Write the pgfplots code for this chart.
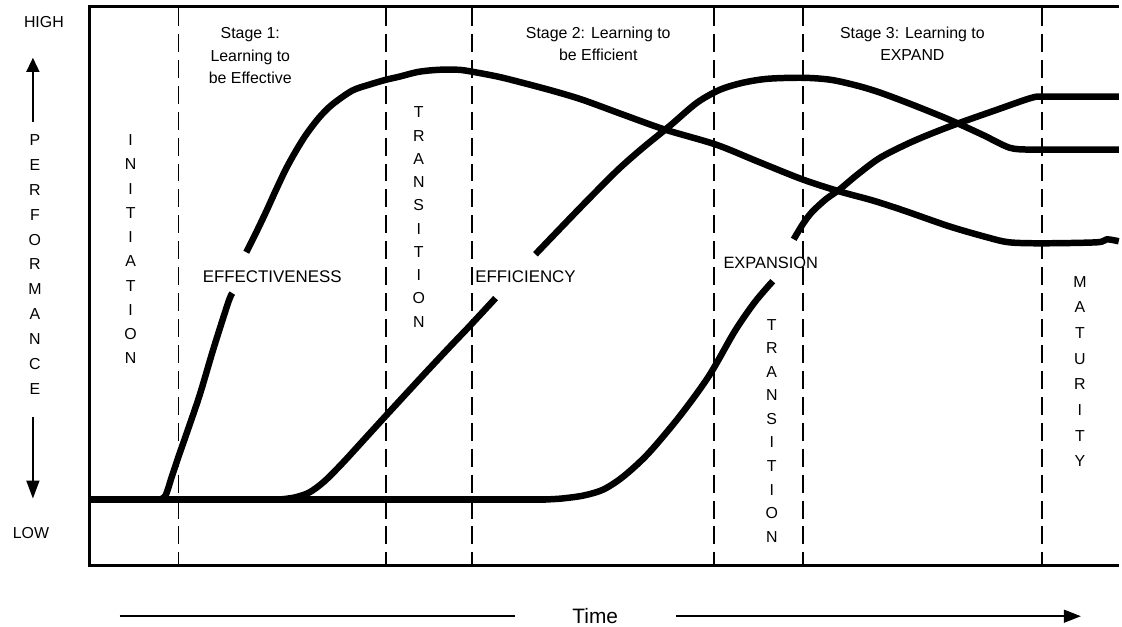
\documentclass[border=0pt]{standalone}
\usepackage{fontspec}
\setmainfont{Liberation Sans}
\usepackage{pgfplots}
\pgfplotsset{compat=1.18}
\usetikzlibrary{arrows.meta}
\begin{document}
\begin{tikzpicture}
\begin{axis}[x=1bp, y=1bp, xmin=0, xmax=1122, ymin=0, ymax=628, y dir=reverse,
  hide axis, clip=false, scale only axis]
% bounding box
\addplot[draw=none, forget plot] coordinates {(0,0) (1122,628)};
% frame (no right side)
\addplot[line width=3bp, line join=miter] coordinates {(1122,7) (90,7) (90,567) (1122,567)};
% dashed phase separators
\foreach \xx in {179,387,473,716,805,1045} {
  \edef\tmp{\noexpand\addplot[line width=1.8bp, dash pattern=on 18bp off 8bp] coordinates {(\xx,8) (\xx,566)};}
  \tmp
}
% baseline
\addplot[line width=6.5bp] coordinates {(90,501) (548,501)};
% Effectiveness
\addplot[line width=6.5bp, smooth, line join=round] coordinates {
(160,501) (166,497) (172,479) (179,458) (186,438) (200,397) (214,350) (229,303) (233,294)};
\addplot[line width=6.5bp, smooth, line join=round] coordinates {
(247,253) (257,233) (267,212) (277,190) (287,169) (297,151) (307,135) (320,118) (333,105) (353,91)
(370,85) (387,80) (400,77) (420,72) (440,70) (460,70) (474,72) (500,77) (524,83) (554,91)
(584,100) (625,115) (667,130) (718,145) (760,162) (805,180) (842,192) (875,201) (906,211)
(952,227) (990,238) (1012,243) (1045,244) (1100,243) (1110,240) (1122,242)};
% Efficiency
\addplot[line width=6.5bp, smooth, line join=round] coordinates {
(280,501) (295,499) (310,494) (325,483) (343,465) (365,441) (386,418) (421,380) (450,349) (471,327) (497,299)};
\addplot[line width=6.5bp, smooth, line join=round] coordinates {
(537,255) (560,231) (590,200) (620,170) (645,148) (672,126) (699,103) (722,90) (745,83) (770,79)
(805,78) (833,80) (860,86) (883,93) (915,105) (952,120) (985,135) (1012,148) (1030,150) (1045,150) (1122,150)};
% Expansion
\addplot[line width=6.5bp, smooth, line join=round] coordinates {
(545,501) (563,500) (585,497) (605,491) (625,478) (650,455) (682,417) (711,377) (737,332) (757,303) (775,282)};
\addplot[line width=6.5bp, smooth, line join=round] coordinates {
(796,240) (805,225) (814,213) (828,200) (842,190) (860,175) (883,158) (915,142) (952,127)
(1000,110) (1035,98) (1050,97) (1122,97)};

% Stage labels
\node[anchor=north, inner sep=0, align=center, font=\fontsize{16}{23}\selectfont] at (axis cs:251,27) {Stage 1:\\Learning to\\be Effective};
\node[anchor=north, inner sep=0, align=center, font=\fontsize{16}{22}\selectfont] at (axis cs:600,27) {Stage 2: Learning to\\be Efficient};
\node[anchor=north, inner sep=0, align=center, font=\fontsize{16}{22}\selectfont] at (axis cs:915,27) {Stage 3: Learning to\\EXPAND};
% curve labels
\node[inner sep=0, font=\fontsize{17}{20}\selectfont] at (axis cs:273,277) {EFFECTIVENESS};
\node[inner sep=0, font=\fontsize{17}{20}\selectfont] at (axis cs:527,277) {EFFICIENCY};
\node[inner sep=0, font=\fontsize{16.5}{20}\selectfont] at (axis cs:773,264) {EXPANSION};
% vertical words
\node[anchor=north, inner sep=0, align=center, font=\fontsize{16}{24.4}\selectfont] at (axis cs:131,135) {I\\N\\I\\T\\I\\A\\T\\I\\O\\N};
\node[anchor=north, inner sep=0, align=center, font=\fontsize{16}{23.4}\selectfont] at (axis cs:420,107) {T\\R\\A\\N\\S\\I\\T\\I\\O\\N};
\node[anchor=north, inner sep=0, align=center, font=\fontsize{16}{23.7}\selectfont] at (axis cs:774,320) {T\\R\\A\\N\\S\\I\\T\\I\\O\\N};
\node[anchor=north, inner sep=0, align=center, font=\fontsize{16}{25.8}\selectfont] at (axis cs:1083,277) {M\\A\\T\\U\\R\\I\\T\\Y};
\node[anchor=north, inner sep=0, align=center, font=\fontsize{16}{25}\selectfont] at (axis cs:35,135) {P\\E\\R\\F\\O\\R\\M\\A\\N\\C\\E};
% HIGH / LOW
\node[inner sep=0, font=\fontsize{16}{20}\selectfont] at (axis cs:44,22) {HIGH};
\node[inner sep=0, font=\fontsize{16}{20}\selectfont] at (axis cs:31,535) {LOW};
\draw[line width=1.6bp, -{Triangle[width=13bp,length=14bp]}] (axis cs:33,122) -- (axis cs:33,58);
\draw[line width=1.6bp, -{Triangle[width=13bp,length=18bp]}] (axis cs:33,418) -- (axis cs:33,500);
% Time
\draw[line width=1.5bp] (axis cs:120,618) -- (axis cs:516,618);
\node[inner sep=0, font=\fontsize{21}{24}\selectfont] at (axis cs:597,618) {Time};
\draw[line width=1.5bp, -{Triangle[width=13bp,length=17bp]}] (axis cs:678,618) -- (axis cs:1084,618);
\end{axis}
\end{tikzpicture}
\end{document}
